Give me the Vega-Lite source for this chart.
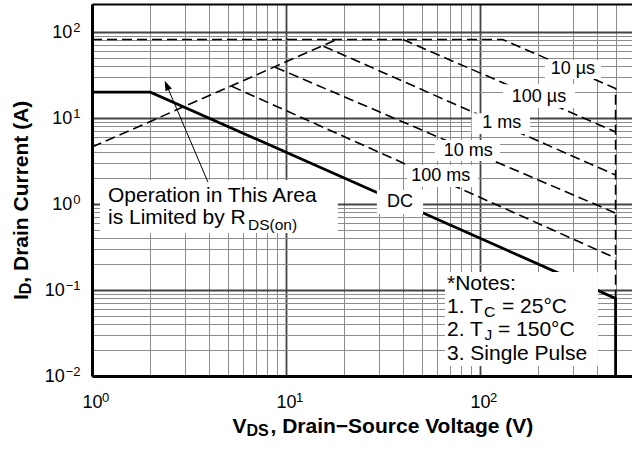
{
  "$schema": "https://vega.github.io/schema/vega-lite/v6.json",
  "width": 540,
  "height": 372,
  "autosize": {"type": "none"},
  "padding": {"left": 92, "top": 4, "right": 0, "bottom": 75},
  "background": "white",
  "config": {
    "font": "Liberation Sans",
    "view": {"stroke": null},
    "axis": {"ticks": false, "tickSize": 0, "domain": false, "grid": false, "labelColor": "black", "titleColor": "black", "labelFont": "Liberation Sans", "titleFont": "Liberation Sans", "labelOverlap": false, "labelFlush": false}
  },
  "datasets": {
    "pulse": [
      {"series": "IDM 10us", "order": 1, "V": 1, "I": 82},
      {"series": "IDM 10us", "order": 2, "V": 131, "I": 82},
      {"series": "IDM 10us", "order": 3, "V": 500, "I": 22},
      {"series": "IDM 10us", "order": 4, "V": 500, "I": 0.08},
      {"series": "RDS(on)", "order": 1, "V": 1, "I": 4.6},
      {"series": "RDS(on)", "order": 2, "V": 18.3, "I": 82},
      {"series": "100us", "order": 1, "V": 40.1, "I": 82},
      {"series": "100us", "order": 2, "V": 500, "I": 6.9},
      {"series": "1ms", "order": 1, "V": 15.6, "I": 68.5},
      {"series": "1ms", "order": 2, "V": 500, "I": 2.17},
      {"series": "10ms", "order": 1, "V": 8.8, "I": 39.0},
      {"series": "10ms", "order": 2, "V": 500, "I": 0.785},
      {"series": "100ms", "order": 1, "V": 5.25, "I": 23.4},
      {"series": "100ms", "order": 2, "V": 500, "I": 0.235}
    ],
    "dc": [
      {"order": 1, "V": 1, "I": 20},
      {"order": 2, "V": 2, "I": 20},
      {"order": 3, "V": 500, "I": 0.08},
      {"order": 4, "V": 500, "I": 0.01}
    ],
    "boxes": [
      {"box": "10 µs", "V1": 216, "V2": 420.6, "I1": 28.4, "I2": 47.2},
      {"box": "100 µs", "V1": 131.4, "V2": 309, "I1": 13.1, "I2": 24.8},
      {"box": "1 ms", "V1": 90.6, "V2": 181, "I1": 6.52, "I2": 11.4},
      {"box": "10 ms", "V1": 58.6, "V2": 127, "I1": 3.16, "I2": 5.55},
      {"box": "100 ms", "V1": 42.0, "V2": 97.6, "I1": 1.58, "I2": 2.84},
      {"box": "DC", "V1": 29.4, "V2": 50.9, "I1": 0.766, "I2": 1.46},
      {"box": "operation", "V1": 1.0997, "V2": 18.5, "I1": 0.46, "I2": 1.9},
      {"box": "notes", "V1": 66.0, "V2": 405.5, "I1": 0.01306, "I2": 0.162}
    ],
    "labels": [
      {"t": "10 µs", "V": 301, "I": 32.5},
      {"t": "100 µs", "V": 201.5, "I": 15.5},
      {"t": "1 ms", "V": 129.4, "I": 7.59},
      {"t": "10 ms", "V": 87.0, "I": 3.65},
      {"t": "100 ms", "V": 62.8, "I": 1.87},
      {"t": "DC", "V": 38.7, "I": 0.915}
    ],
    "ann": [
      {"t": "Operation in This Area", "V": 1.209, "I": 1.055},
      {"t": "is Limited by R", "V": 1.209, "I": 0.581},
      {"t": "*Notes:", "V": 67.6, "I": 0.1},
      {"t": "1. T", "V": 67.6, "I": 0.0544},
      {"t": "= 25°C", "V": 129.8, "I": 0.0544},
      {"t": "2. T", "V": 67.6, "I": 0.0292},
      {"t": "= 150°C", "V": 123.8, "I": 0.0292},
      {"t": "3. Single Pulse", "V": 67.6, "I": 0.01535}
    ],
    "subs": [
      {"t": "DS(on)", "V": 6.37, "I": 0.505},
      {"t": "C", "V": 104.9, "I": 0.049},
      {"t": "J", "V": 105.5, "I": 0.0262}
    ],
    "arrow": [
      {"V1": 3.96, "I1": 1.8, "V2": 2.427, "I2": 24.0}
    ]
  },
  "layer": [
    {
      "data": {"name": "pulse"},
      "mark": {"type": "line", "color": "black", "strokeWidth": 1.6, "strokeDash": [10, 5], "strokeCap": "butt"},
      "encoding": {
        "x": {"field": "V", "type": "quantitative", "scale": {"type": "log", "domain": [1, 607.5], "nice": false},
          "axis": {
            "orient": "bottom",
            "values": [1,2,3,4,5,6,7,8,9,10,20,30,40,50,60,70,80,90,100,200,300,400,500],
            "grid": true,
            "gridColor": {"condition": {"test": "abs(log(datum.value)/LN10 - round(log(datum.value)/LN10)) < 0.000001", "value": "#444444"}, "value": "#8c8c8c"},
            "gridWidth": {"condition": {"test": "abs(log(datum.value)/LN10 - round(log(datum.value)/LN10)) < 0.000001", "value": 1.8}, "value": 1},
            "domain": true, "domainColor": "black", "domainWidth": 3,
            "labelExpr": "abs(log(datum.value)/LN10 - round(log(datum.value)/LN10)) < 0.000001 ? '10' : ''",
            "labelFontSize": 18, "labelPadding": 17.7, "labelBaseline": "top", "labelAlign": "center",
            "title": "V", "titleFontSize": 21, "titleFontWeight": "bold", "titleX": 140, "titleY": 56, "titleAlign": "left", "titleBaseline": "alphabetic", "titleAngle": 0
          }},
        "y": {"field": "I", "type": "quantitative", "scale": {"type": "log", "domain": [0.01, 212], "nice": false},
          "axis": {
            "orient": "left",
            "values": [0.01,0.02,0.03,0.04,0.05,0.06,0.07,0.08,0.09,0.1,0.2,0.3,0.4,0.5,0.6,0.7,0.8,0.9,1,2,3,4,5,6,7,8,9,10,20,30,40,50,60,70,80,90,100],
            "grid": true,
            "gridColor": {"condition": {"test": "abs(log(datum.value)/LN10 - round(log(datum.value)/LN10)) < 0.000001", "value": "#444444"}, "value": "#8c8c8c"},
            "gridWidth": {"condition": {"test": "abs(log(datum.value)/LN10 - round(log(datum.value)/LN10)) < 0.000001", "value": 1.8}, "value": 1},
            "domain": true, "domainColor": "black", "domainWidth": 3,
            "labelExpr": "abs(log(datum.value)/LN10 - round(log(datum.value)/LN10)) < 0.000001 ? '10' : ''",
            "labelFontSize": 18, "labelAlign": "right", "labelBaseline": "middle",
            "labelPadding": {"condition": {"test": "datum.value < 0.5", "value": 27.8}, "value": 20.2},
            "title": "I", "titleFontSize": 21, "titleFontWeight": "bold", "titleX": -65, "titleY": 295.6, "titleAlign": "left", "titleBaseline": "alphabetic", "titleAngle": 270
          }},
        "detail": {"field": "series", "type": "nominal"},
        "order": {"field": "order", "type": "quantitative"}
      }
    },
    {
      "data": {"name": "dc"},
      "mark": {"type": "line", "color": "black", "strokeWidth": 2.8, "strokeCap": "butt", "strokeJoin": "miter"},
      "encoding": {
        "x": {"field": "V", "type": "quantitative", "scale": {"type": "log", "domain": [1, 607.5], "nice": false}, "axis": null},
        "y": {"field": "I", "type": "quantitative", "scale": {"type": "log", "domain": [0.01, 212], "nice": false}, "axis": null},
        "order": {"field": "order", "type": "quantitative"}
      }
    },
    {
      "data": {"name": "boxes"},
      "mark": {"type": "rect", "fill": "white"},
      "encoding": {
        "x": {"field": "V1", "type": "quantitative", "scale": {"type": "log", "domain": [1, 607.5], "nice": false},
          "axis": {
            "orient": "bottom",
            "values": [1, 10, 100],
            "labelExpr": "replace('' + round(log(datum.value)/LN10), '-', '−')",
            "labelFontSize": 13, "labelAlign": "left", "labelBaseline": "top", "labelOffset": 9.5, "labelPadding": 15,
            "title": "DS", "titleFontSize": 16, "titleFontWeight": "bold", "titleX": 154, "titleY": 59.5, "titleAlign": "left", "titleBaseline": "alphabetic", "titleAngle": 0
          }},
        "x2": {"field": "V2"},
        "y": {"field": "I1", "type": "quantitative", "scale": {"type": "log", "domain": [0.01, 212], "nice": false},
          "axis": {
            "orient": "left",
            "values": [0.01, 0.1, 1, 10, 100],
            "labelExpr": "replace('' + round(log(datum.value)/LN10), '-', '−')",
            "labelFontSize": 13, "labelAlign": "right", "labelBaseline": "middle", "labelOffset": -4.5, "labelPadding": 12,
            "title": "D", "titleFontSize": 16, "titleFontWeight": "bold", "titleX": -62, "titleY": 289.8, "titleAlign": "left", "titleBaseline": "alphabetic", "titleAngle": 270
          }},
        "y2": {"field": "I2"}
      }
    },
    {
      "data": {"name": "labels"},
      "mark": {"type": "text", "fontSize": 18, "align": "center", "baseline": "alphabetic", "color": "black"},
      "encoding": {
        "x": {"field": "V", "type": "quantitative", "scale": {"type": "log", "domain": [1, 607.5], "nice": false},
          "axis": {"orient": "bottom", "values": [1], "labels": false, "title": ", Drain−Source Voltage (V)", "titleFontSize": 21, "titleFontWeight": "bold", "titleX": 178, "titleY": 56, "titleAlign": "left", "titleBaseline": "alphabetic", "titleAngle": 0}},
        "y": {"field": "I", "type": "quantitative", "scale": {"type": "log", "domain": [0.01, 212], "nice": false},
          "axis": {"orient": "left", "values": [1], "labels": false, "title": ", Drain Current (A)", "titleFontSize": 21, "titleFontWeight": "bold", "titleX": -65, "titleY": 278.2, "titleAlign": "left", "titleBaseline": "alphabetic", "titleAngle": 270}},
        "text": {"field": "t", "type": "nominal"}
      }
    },
    {
      "data": {"name": "ann"},
      "mark": {"type": "text", "fontSize": 21, "align": "left", "baseline": "alphabetic", "color": "black"},
      "encoding": {
        "x": {"field": "V", "type": "quantitative", "scale": {"type": "log", "domain": [1, 607.5], "nice": false}, "axis": null},
        "y": {"field": "I", "type": "quantitative", "scale": {"type": "log", "domain": [0.01, 212], "nice": false}, "axis": null},
        "text": {"field": "t", "type": "nominal"}
      }
    },
    {
      "data": {"name": "subs"},
      "mark": {"type": "text", "fontSize": 15.5, "align": "left", "baseline": "alphabetic", "color": "black"},
      "encoding": {
        "x": {"field": "V", "type": "quantitative", "scale": {"type": "log", "domain": [1, 607.5], "nice": false}, "axis": null},
        "y": {"field": "I", "type": "quantitative", "scale": {"type": "log", "domain": [0.01, 212], "nice": false}, "axis": null},
        "text": {"field": "t", "type": "nominal"}
      }
    },
    {
      "data": {"name": "arrow"},
      "mark": {"type": "rule", "color": "black", "strokeWidth": 1},
      "encoding": {
        "x": {"field": "V1", "type": "quantitative", "scale": {"type": "log", "domain": [1, 607.5], "nice": false},
          "axis": {"orient": "top", "values": [1], "labels": false, "domain": true, "domainColor": "black", "domainWidth": 2, "title": null}},
        "y": {"field": "I1", "type": "quantitative", "scale": {"type": "log", "domain": [0.01, 212], "nice": false}, "axis": null},
        "x2": {"field": "V2"},
        "y2": {"field": "I2"}
      }
    },
    {
      "data": {"name": "arrow"},
      "mark": {"type": "point", "shape": "M0,-1L-0.7,1L0.7,1Z", "filled": true, "color": "black", "opacity": 1, "size": 100, "angle": -23.1},
      "encoding": {
        "x": {"field": "V2", "type": "quantitative", "scale": {"type": "log", "domain": [1, 607.5], "nice": false}, "axis": null},
        "y": {"field": "I2", "type": "quantitative", "scale": {"type": "log", "domain": [0.01, 212], "nice": false}, "axis": null}
      }
    }
  ],
  "resolve": {"axis": {"x": "independent", "y": "independent"}}
}
